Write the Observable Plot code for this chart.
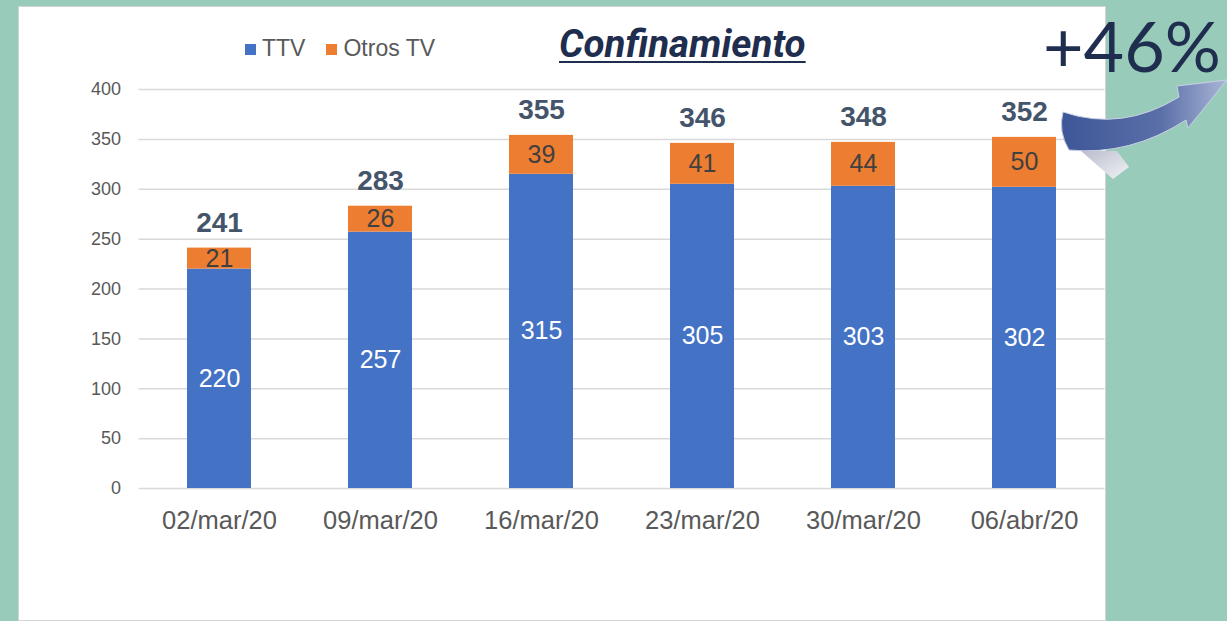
<!DOCTYPE html>
<html>
<head>
<meta charset="utf-8">
<script src="https://cdn.jsdelivr.net/npm/d3@7"></script>
<script src="https://cdn.jsdelivr.net/npm/@observablehq/plot@0.6"></script>
<style>
  html, body { margin: 0; padding: 0; }
  body { width: 1227px; height: 621px; background: #99cbbb; position: relative; overflow: hidden; font-family: "Liberation Sans", Arial, sans-serif; }
  #panel { position: absolute; left: 18px; top: 6px; width: 1086px; height: 613px; background: #fff; border: 1px solid #d4d4d4; }
  #chart { position: absolute; left: 0; top: 0; }
  .legend { position: absolute; top: 37px; left: 245px; font-size: 23px; line-height: 23px; color: #595959; white-space: nowrap; }
  .legend span.sw { display: inline-block; width: 11px; height: 11px; margin-right: 6px; vertical-align: 1px; }
  .legend span.item { margin-right: 21px; }
  #title { position: absolute; left: 559px; top: 25px; font-family: Roboto, sans-serif; font-weight: 700; font-style: italic; font-size: 38.5px; line-height: 38.5px; color: #1f2d4e; text-decoration: underline; text-decoration-thickness: 2px; text-underline-offset: 4px; white-space: nowrap; }
  #pct { position: absolute; left: 1043px; top: 10px; font-family: Lato, sans-serif; font-size: 70px; line-height: 70px; color: #1f2d4e; white-space: nowrap; }
  #arrow { position: absolute; left: 0; top: 0; }
</style>
</head>
<body>
<div id="panel"></div>
<div id="chart"></div>
<div class="legend" id="legend"></div>
<div id="title">Confinamiento</div>
<svg id="arrow" width="1227" height="621">
  <defs>
    <linearGradient id="ag" x1="0" y1="0" x2="1" y2="0">
      <stop offset="0" stop-color="#3d5697"/>
      <stop offset="0.6" stop-color="#5a6fa8"/>
      <stop offset="1" stop-color="#aab6d6"/>
    </linearGradient>
    <linearGradient id="sg" x1="0" y1="0" x2="1" y2="1">
      <stop offset="0" stop-color="#b9bccb"/>
      <stop offset="1" stop-color="#f2f3f7"/>
    </linearGradient>
  </defs>
  <path d="M1081,151 L1117,151 L1129,167 L1113,179 Z" fill="url(#sg)"/>
  <path d="M1063,112 Q1122,132 1179,97 L1177,86 L1227,80 L1188,128 L1186,120 Q1130,156 1069,150 Q1058,132 1063,112 Z" fill="url(#ag)" stroke="#c9d0e4" stroke-width="1"/>
</svg>
<div id="pct">+46%</div>
<script>
// ---- data ----
const dates = ["02/mar/20", "09/mar/20", "16/mar/20", "23/mar/20", "30/mar/20", "06/abr/20"];
const series = ["TTV", "Otros TV"];
const seriesColors = ["#4472c4", "#ed7d31"];
const ttv = [220, 257, 315, 305, 303, 302];
const otros = [21, 26, 39, 41, 44, 50];
const totals = [241, 283, 355, 346, 348, 352];
const yTicks = [0, 50, 100, 150, 200, 250, 300, 350, 400];

// ---- tables built from the arrays ----
const rows = [];
dates.forEach((d, i) => {
  rows.push({date: d, series: "TTV", y1: 0, y2: ttv[i], value: ttv[i]});
  rows.push({date: d, series: "Otros TV", y1: ttv[i], y2: ttv[i] + otros[i], value: otros[i]});
});
const totalRows = dates.map((d, i) => ({date: d, top: ttv[i] + otros[i], total: totals[i]}));

// legend
const legend = document.getElementById("legend");
legend.innerHTML = series.map((s, i) =>
  `<span class="item"><span class="sw" style="background:${seriesColors[i]}"></span>${s}</span>`).join("");

const chart = Plot.plot({
  width: 1227,
  height: 621,
  marginLeft: 138.5,
  marginRight: 122.5,
  marginTop: 89,
  marginBottom: 133,
  style: {background: "transparent", fontFamily: "'Liberation Sans', Arial, sans-serif", overflow: "visible"},
  x: {domain: dates, paddingInner: 0.6, paddingOuter: 0.3, label: null, axis: null},
  y: {domain: [0, 400], label: null},
  color: {domain: series, range: seriesColors},
  marks: [
    Plot.gridY(yTicks, {stroke: "#d9d9d9", strokeOpacity: 1, strokeWidth: 1.5}),
    Plot.axisY(yTicks, {tickSize: 0, tickPadding: 18, fontSize: 18, fill: "#595959", label: null}),
    // x tick labels drawn as a text mark on the x scale, below the frame
    Plot.text(dates, {x: d => d, frameAnchor: "bottom", lineAnchor: "top", dy: 22, fontSize: 25.5, fill: "#595959"}),
    Plot.barY(rows, {x: "date", y1: "y1", y2: "y2", fill: "series"}),
    Plot.text(rows.filter(r => r.series === "TTV"), {x: "date", y: r => (r.y1 + r.y2) / 2, text: "value", fill: "white", fontSize: 25}),
    Plot.text(rows.filter(r => r.series === "Otros TV"), {x: "date", y: r => (r.y1 + r.y2) / 2, text: "value", fill: "#404040", fontSize: 25}),
    Plot.text(totalRows, {x: "date", y: "top", text: "total", dy: -25, fill: "#44546a", fontSize: 28, fontWeight: "bold"})
  ]
});
document.getElementById("chart").appendChild(chart);
</script>
</body>
</html>
